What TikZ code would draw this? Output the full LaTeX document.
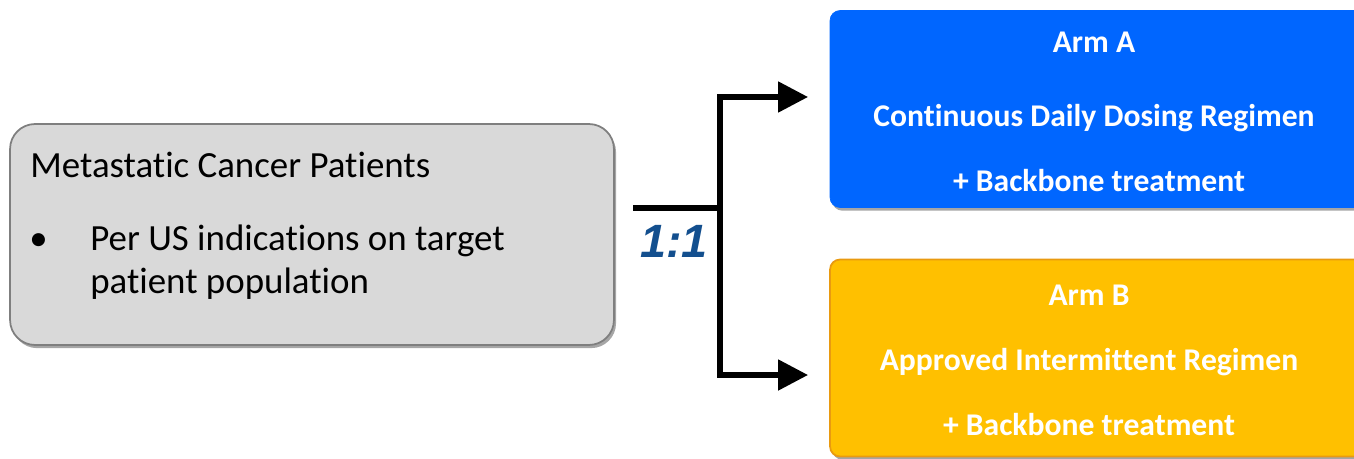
\documentclass[tikz,border=0pt]{standalone}
\usepackage{fontspec}
\setmainfont{Carlito}[Ligatures=CommonOff]
\newfontfamily\ratiofont{Liberation Sans}
\usetikzlibrary{arrows.meta, shadows}
\definecolor{boxgray}{HTML}{D9D9D9}
\definecolor{edgegray}{HTML}{7F7F7F}
\definecolor{armblue}{HTML}{0066FF}
\definecolor{armyellow}{HTML}{FFC000}
\definecolor{armorange}{HTML}{E99A10}
\definecolor{ratioblue}{HTML}{134F8E}

\begin{document}
\begin{tikzpicture}[x=0.02cm, y=-0.02cm,
    boxshadow/.style={drop shadow={shadow xshift=1.2pt, shadow yshift=-1.8pt, fill=black!35, opacity=1}},
    patbox/.style={draw=edgegray, line width=1pt, fill=boxgray, rounded corners=0.5cm,
      minimum width=12.08cm, minimum height=4.42cm, boxshadow},
    armbox/.style={rounded corners=0.2cm, minimum width=10.72cm, minimum height=3.94cm, boxshadow},
    bodytext/.style={anchor=base west, inner sep=0pt, font=\fontsize{21}{25}\selectfont},
    armtext/.style={anchor=base, inner sep=0pt, text=white, font=\fontsize{18}{22}\selectfont\bfseries},
    link/.style={line width=3pt, line join=miter},
    arm/.style={link, -{Triangle[length=0.6cm, width=0.6cm]}}]

    \useasboundingbox (0,0) rectangle (1354,459);
    \clip (0,0) rectangle (1354,459);

    \node[patbox] (patients) at (312,234.5) {};
    \node[bodytext] (title) at (30,177) {Metastatic Cancer Patients};
    \node[bodytext] (dot) at (29,250) {\textbullet};
    \node[bodytext] (crit1) at (90,250) {Per US indications on target};
    \node[bodytext] (crit2) at (90,293) {patient population};

    \node[armbox, fill=armblue, draw=armblue] (armA) at (1098,109) {};
    \node[armtext] (nameA) at (1094,53) {Arm A};
    \node[armtext] (regA) at (1094,127) {Continuous Daily Dosing Regimen};
    \node[armtext] (backA) at (1099,192) {+ Backbone treatment};

    \node[armbox, fill=armyellow, draw=armorange, line width=1pt] (armB) at (1098,358) {};
    \node[armtext] (nameB) at (1089,305) {Arm B};
    \node[armtext] (regB) at (1089,370) {Approved Intermittent Regimen};
    \node[armtext] (backB) at (1089,435) {+ Backbone treatment};

    \coordinate (start) at (633,208);
    \coordinate (split) at (720,208);
    \coordinate (tipA) at (808,97);
    \coordinate (tipB) at (808,375);

    \draw[link] (start) -- (split);
    \draw[arm] (split) |- (tipA);
    \draw[arm] (split) |- (tipB);

    \node[inner sep=0pt, text=ratioblue, font=\ratiofont\fontsize{26.6}{30}\selectfont\bfseries\itshape] (ratio) at (674,241) {1:1};

\end{tikzpicture}
\end{document}
